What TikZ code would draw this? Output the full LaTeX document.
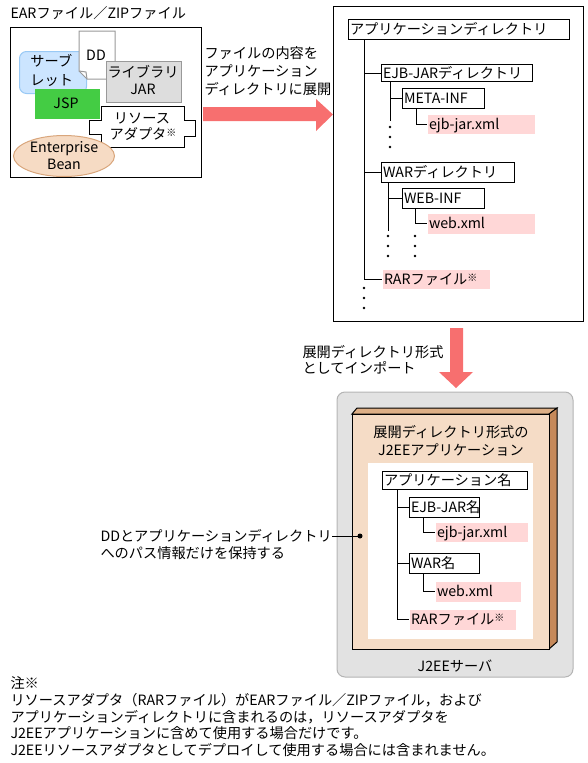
\documentclass[tikz,border=0pt]{standalone}
\usepackage{fontspec}
\setmainfont{Noto Sans CJK JP}
\newcommand\mysz{\fontsize{14.2}{17}\selectfont}
\newcommand\kome{\raisebox{3pt}{\fontsize{10}{10}\selectfont ※}}
\definecolor{arrowred}{HTML}{F76F6F}
\definecolor{pinkbox}{HTML}{FFD7D7}
\definecolor{jspgreen}{HTML}{44CC44}
\definecolor{servfill}{HTML}{CCE5FF}
\definecolor{servline}{HTML}{99C9F5}
\definecolor{libfill}{HTML}{DDDDDD}
\definecolor{libline}{HTML}{999999}
\definecolor{beanfill}{HTML}{F6DBC4}
\definecolor{beanline}{HTML}{D9A67C}
\definecolor{srvfill}{HTML}{E2E2E2}
\definecolor{srvline}{HTML}{B4B4B4}
\definecolor{appfront}{HTML}{F5DCC6}
\definecolor{apptop}{HTML}{DDAF86}
\definecolor{appside}{HTML}{C6895A}
\begin{document}
\begin{tikzpicture}[x=1pt,y=-1pt,line width=1pt,
  txt/.style={inner sep=0pt, font=\mysz, text height=12.5pt, text depth=1.7pt},
  tbox/.style={draw, fill=white, inner xsep=1.5pt, inner ysep=0pt, anchor=north west, align=left, font=\mysz, text height=12.5pt, text depth=1.7pt},
  pbox/.style={fill=pinkbox, inner xsep=1.5pt, inner ysep=0pt, anchor=north west, align=left, font=\mysz, text height=12.5pt, text depth=1.7pt},
  treeline/.style={draw, line width=1pt},
  dotmark/.style={fill=black}
]
\useasboundingbox (0,0) rectangle (588,763);

% ---------- EAR / ZIP file ----------
\node[txt, anchor=west] (earlabel) at (10,13) {EARファイル／ZIPファイル};
\node[draw, minimum width=191pt, minimum height=150pt, anchor=north west, inner sep=0pt] (earbox) at (10,27) {};
\node[draw=servline, fill=servfill, rounded corners=7pt, minimum width=67pt, minimum height=42pt, anchor=north west, inner sep=0pt] (servlet) at (19,51) {};
\node[txt, anchor=west] (servt1) at (30,61) {サーブ};
\node[txt, anchor=west] (servt2) at (30,80) {レット};
\draw[draw=libline, fill=white] (79,31) -- (115,31) -- (115,79) -- (87,79) -- (79,71) -- cycle;
\draw[draw=libline] (79,71) -- (86,72) -- (87,79);
\node[txt] (ddt) at (96,55) {DD};
\node[draw=libline, fill=libfill, minimum width=75pt, minimum height=41pt, anchor=north west, inner sep=0pt] (lib) at (106,61) {};
\node[txt] (libt1) at (143,72) {ライブラリ};
\node[txt] (libt2) at (143,89) {JAR};
\node[fill=jspgreen, minimum width=65pt, minimum height=30pt, anchor=north west, inner sep=0pt] (jsp) at (34,88) {};
\node[txt] (jspt) at (66,103) {JSP};
\draw[fill=white] (101,106) -- (184,106) -- (184,120) -- (195,120) -- (195,136) -- (184,136) -- (184,147) -- (101,147) -- (101,134) -- (89,134) -- (89,120) -- (101,120) -- cycle;
\node[txt] (rat1) at (142,118) {リソース};
\node[txt] (rat2) at (143,134) {アダプタ\kome};
\draw[draw=beanline, fill=beanfill] (64,156) ellipse [x radius=50.5, y radius=20.5];
\node[txt] (beant1) at (64,147) {Enterprise};
\node[txt] (beant2) at (64,164) {Bean};

% ---------- right arrow ----------
\fill[arrowred] (203,107) -- (316,107) -- (316,99) -- (333,114.5) -- (316,131) -- (316,121) -- (203,121) -- cycle;
\node[txt, anchor=west] (ra1) at (204,53) {ファイルの内容を};
\node[txt, anchor=west] (ra2) at (204,71) {アプリケーション};
\node[txt, anchor=west] (ra3) at (204,89) {ディレクトリに展開};

% ---------- application directory ----------
\node[draw, minimum width=250pt, minimum height=315pt, anchor=north west, inner sep=0pt] (dirbox) at (333,6) {};
\node[tbox, text width=218pt, minimum height=20pt] (root) at (348,19) {\mbox{アプリケーションディレクトリ}};
\node[tbox, text width=148pt, minimum height=17pt] (ejb) at (381,64) {\mbox{EJB-JARディレクトリ}};
\node[tbox, text width=79pt, minimum height=20pt] (meta) at (402,88) {\mbox{META-INF}};
\node[pbox, text width=104pt, minimum height=19pt] (ejbxml) at (427,114) {\mbox{ejb-jar.xml}};
\node[tbox, text width=130pt, minimum height=20pt] (war) at (381,162) {\mbox{WARディレクトリ}};
\node[tbox, text width=79pt, minimum height=20pt] (webinf) at (402,188) {\mbox{WEB-INF}};
\node[pbox, text width=104pt, minimum height=20pt] (webxml) at (427,213) {\mbox{web.xml}};
\node[pbox, text width=104pt, minimum height=19pt] (rar) at (382,269) {\mbox{RARファイル\kome}};

\coordinate (t0) at ([xshift=16pt]root.south west);
\draw[treeline] (t0) |- (rar.west);
\draw[treeline] (t0 |- ejb.west) -- (ejb.west);
\draw[treeline] (t0 |- war.west) -- (war.west);
\coordinate (t1) at ([xshift=9pt]ejb.south west);
\draw[treeline] (t1) -- ++(0,39);
\draw[treeline] (t1 |- meta.west) -- (meta.west);
\draw[treeline] ([xshift=14pt]meta.south west) |- (ejbxml.west);
\coordinate (t2) at ([xshift=7pt]war.south west);
\draw[treeline] (t2) -- ++(0,48);
\draw[treeline] (t2 |- webinf.west) -- (webinf.west);
\draw[treeline] ([xshift=13pt]webinf.south west) |- (webxml.west);
\foreach \yy in {127,137,147} \fill[dotmark] (390,\yy) circle (1.3);
\foreach \yy in {236,246,256} {\fill[dotmark] (388,\yy) circle (1.3); \fill[dotmark] (415,\yy) circle (1.3);}
\foreach \yy in {288,298,308} \fill[dotmark] (364,\yy) circle (1.3);

% ---------- down arrow ----------
\fill[arrowred] (450,328) -- (463,328) -- (463,372) -- (473,372) -- (456,388) -- (439,372) -- (450,372) -- cycle;
\node[txt, anchor=west] (da1) at (302,352) {展開ディレクトリ形式};
\node[txt, anchor=west] (da2) at (302,368) {としてインポート};

% ---------- J2EE server ----------
\draw[draw=srvline, fill=srvfill, rounded corners=8pt] (337,392) rectangle (573,677);
\node[txt] (srvlabel) at (455,666) {J2EEサーバ};
\draw[fill=apptop] (352,414) -- (357,408) -- (557,408) -- (549,414) -- cycle;
\draw[fill=appside] (549,414) -- (557,408) -- (557,642) -- (549,649) -- cycle;
\node[draw, fill=appfront, minimum width=197pt, minimum height=235pt, anchor=north west, inner sep=0pt] (app) at (352,414) {};
\node[txt] (appt1) at (451,432) {展開ディレクトリ形式の};
\node[txt] (appt2) at (451,450) {J2EEアプリケーション};
\fill[white] (368,463) rectangle (533,639);
\node[tbox, text width=142pt, minimum height=18pt] (appname) at (382,471) {\mbox{アプリケーション名}};
\node[tbox, text width=67pt, minimum height=20pt] (ejbname) at (409,497) {\mbox{EJB-JAR名}};
\node[pbox, text width=89pt, minimum height=19pt] (ejbxml2) at (435,522) {\mbox{ejb-jar.xml}};
\node[tbox, text width=67pt, minimum height=20pt] (warname) at (409,553) {\mbox{WAR名}};
\node[pbox, text width=82pt, minimum height=20pt] (webxml2) at (435,581) {\mbox{web.xml}};
\node[pbox, text width=103pt, minimum height=20pt] (rar2) at (409,609) {\mbox{RARファイル\kome}};
\coordinate (u0) at ([xshift=15pt]appname.south west);
\draw[treeline] (u0) |- (rar2.west);
\draw[treeline] (u0 |- ejbname.west) -- (ejbname.west);
\draw[treeline] (u0 |- warname.west) -- (warname.west);
\draw[treeline] ([xshift=14pt]ejbname.south west) |- (ejbxml2.west);
\draw[treeline] ([xshift=14pt]warname.south west) |- (webxml2.west);

% ---------- annotation ----------
\coordinate (pin) at (360,536);
\node[txt, anchor=west] (ann1) at (100,536) {DDとアプリケーションディレクトリ};
\node[txt, anchor=west] (ann2) at (100,553) {へのパス情報だけを保持する};
\draw (ann1.east) -- (pin);
\fill (pin) circle (2.5);

% ---------- note ----------
\node[txt, anchor=west] (n0) at (10,683) {注※};
\node[txt, anchor=west] (n1) at (10,700) {リソースアダプタ（RARファイル）がEARファイル／ZIPファイル，および};
\node[txt, anchor=west] (n2) at (10,717) {アプリケーションディレクトリに含まれるのは，リソースアダプタを};
\node[txt, anchor=west] (n3) at (10,733) {J2EEアプリケーションに含めて使用する場合だけです。};
\node[txt, anchor=west] (n4) at (10,750) {J2EEリソースアダプタとしてデプロイして使用する場合には含まれません。};
\end{tikzpicture}
\end{document}
